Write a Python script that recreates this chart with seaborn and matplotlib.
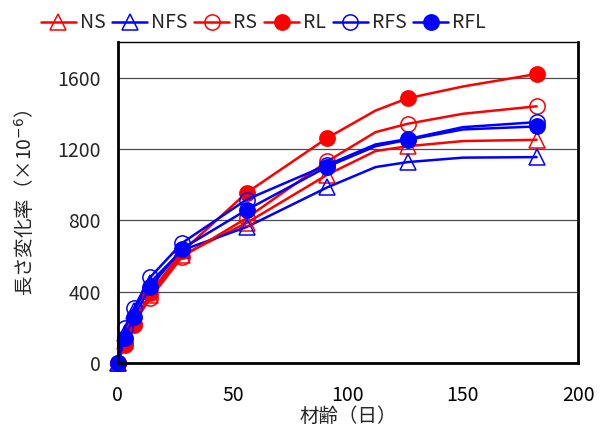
import seaborn as sns
import pandas as pd
import matplotlib.pyplot as plt

sns.set_style('white')
plt.rcParams['font.family'] = ['Noto Sans CJK JP', 'DejaVu Sans']
plt.rcParams['font.size'] = 14

# days; 112 and 150 are line-only points (no marker in the original)
days = [0, 3, 7, 14, 28, 56, 91, 112, 126, 150, 182]
marked = [0, 1, 2, 3, 4, 5, 6, 8, 10]

ns = [0, 120, 240, 380, 604, 785, 1055, 1188, 1215, 1244, 1251]
nfs = [0, 170, 290, 450, 632, 762, 984, 1098, 1126, 1151, 1154]
rs = [0, 110, 220, 362, 595, 812, 1130, 1294, 1341, 1397, 1439]
rl = [0, 100, 212, 391, 625, 954, 1261, 1415, 1484, 1550, 1620]
rfs = [0, 196, 307, 479, 673, 916, 1110, 1225, 1255, 1322, 1350]
rfl = [0, 140, 259, 423, 641, 858, 1100, 1215, 1251, 1309, 1326]

series = {
    "NS": (ns, "red", "^", "none"),
    "NFS": (nfs, "blue", "^", "none"),
    "RS": (rs, "red", "o", "none"),
    "RL": (rl, "red", "o", "red"),
    "RFS": (rfs, "blue", "o", "none"),
    "RFL": (rfl, "blue", "o", "blue"),
}

fig = plt.figure(figsize=(6.04, 4.32), dpi=100)
ax = fig.add_axes([0.195, 0.160, 0.762, 0.743])

for name, (vals, col, mk, face) in series.items():
    df = pd.DataFrame({"day": days, "val": vals})
    sns.lineplot(data=df, x="day", y="val", ax=ax, color=col, lw=1.8,
                 marker=mk, markersize=11, mfc=face, mec=col, mew=1.1,
                 markevery=marked, label=name, sort=False, clip_on=False)

ax.set_xlim(0, 200)
ax.set_ylim(0, 1800)
ax.set_xticks([0, 50, 100, 150, 200])
ax.set_yticks([0, 400, 800, 1200, 1600])
ax.yaxis.grid(True, color='0.3', lw=0.9)
ax.set_axisbelow(True)
ax.tick_params(axis='x', direction='in', length=5, width=1, pad=16, colors='black')
ax.tick_params(axis='y', direction='in', length=0, pad=12)
for s in ['left', 'bottom', 'right']:
    ax.spines[s].set_linewidth(2)
ax.spines['top'].set_linewidth(1)
for s in ax.spines.values():
    s.set_color('black')

ax.set_xlabel("材齢（日）", labelpad=0)
ax.set_ylabel("長さ変化率（×10$^{-6}$）", labelpad=15)

ax.get_legend().remove()
h, l = ax.get_legend_handles_labels()
fig.legend(h, l, loc='center', bbox_to_anchor=(0.436, 0.947), ncol=6,
           frameon=False, columnspacing=0.35, handletextpad=0.2,
           handlelength=1.8, fontsize=14)

fig.savefig("out.png", dpi=100)
